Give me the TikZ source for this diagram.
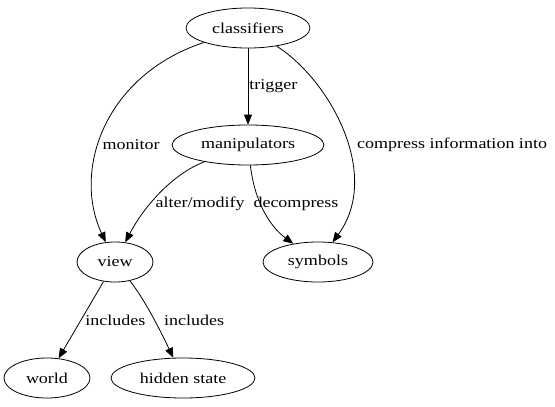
\documentclass[tikz,border=0pt]{standalone}
\usepackage{fontspec}
\setmainfont{Liberation Serif}
\newfontfamily\gvfont[FakeStretch=1.2]{Liberation Serif}
\usetikzlibrary{arrows.meta,shapes.geometric}
\begin{document}
\begin{tikzpicture}[x=1pt,y=-1pt,
  nd/.style={draw,line width=0.8pt,ellipse,minimum height=40pt,inner sep=0pt,font=\gvfont\fontsize{15}{17}\selectfont},
  ed/.style={-{Triangle[length=10pt,width=8pt]},line width=0.8pt},
  lb/.style={font=\gvfont\fontsize{15}{17}\selectfont,inner sep=1pt}]
\useasboundingbox (0,0) rectangle (555,407);
\node[nd,minimum width=124pt] (cl) at (248,28) {classifiers};
\node[nd,minimum width=152pt] (ma) at (248,145) {manipulators};
\node[nd,minimum width=76pt] (vi) at (115,262) {view};
\node[nd,minimum width=110pt] (sy) at (318,262) {symbols};
\node[nd,minimum width=86pt] (wo) at (47,378) {world};
\node[nd,minimum width=144pt] (hs) at (183,378) {hidden state};
\draw[ed] (cl) -- (ma) node[lb,midway,right] {trigger};
\draw[ed] (cl) .. controls (105,75) and (72,170) .. (vi);
\node[lb] (lmon) at (131,145) {monitor};
\draw[ed] (cl) .. controls (330,80) and (382,175) .. (sy);
\node[lb] (lcomp) at (452,145) {compress information into};
\draw[ed] (ma) .. controls (170,175) and (142,210) .. (vi);
\node[lb] (lalt) at (200,204) {alter/modify};
\draw[ed] (ma) .. controls (255,205) and (272,228) .. (sy);
\node[lb] (ldec) at (296,204) {decompress};
\draw[ed] (vi) -- (wo) node[lb,pos=0.5,right=3pt] {includes};
\draw[ed] (vi) .. controls (145,300) and (160,330) .. (hs);
\node[lb] (linc) at (194,320) {includes};
\end{tikzpicture}
\end{document}
